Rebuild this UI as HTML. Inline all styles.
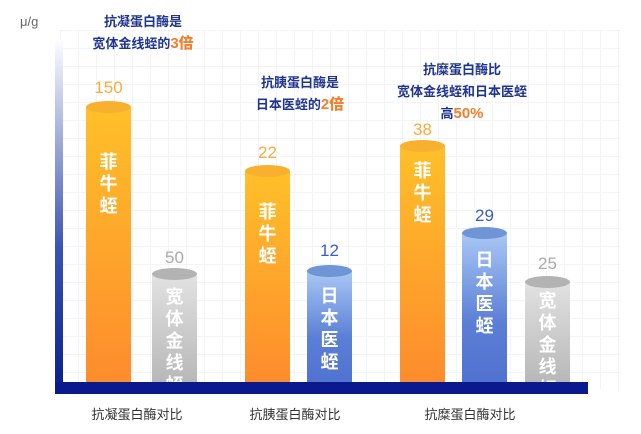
<!DOCTYPE html>
<html><head><meta charset="utf-8"><style>
body{margin:0;width:641px;height:434px;background:#fff;position:relative;overflow:hidden;font-family:"Liberation Sans","Noto Sans CJK SC",sans-serif}
.a{position:absolute}
.grid{left:60px;top:30px;width:560px;height:360px;background-image:linear-gradient(#f1f2f6 1px,transparent 1px),linear-gradient(90deg,#f1f2f6 1px,transparent 1px);background-size:18px 18px;opacity:.8}
.bar{position:absolute;width:45px;border-radius:0;color:#fff;font-size:18px;font-weight:bold;text-align:center;line-height:22px;padding-top:22px;box-sizing:border-box}
.bar span{display:block;width:1.1em;margin:0 auto;word-break:break-all}
.o{background:linear-gradient(#ffc02a,#fd8c2c)}
.o::before,.b::before,.g::before{content:"";position:absolute;left:0;top:-6px;width:45px;height:12px;border-radius:50%}
.o::before{background:#f8b12e}
.b{background:linear-gradient(#a9c8f4,#5b7fd6 60%,#5173d0)}
.b::before{background:#6f95d6}
.g{background:linear-gradient(#e2e2e2,#b8b8b8);overflow:visible}
.g::before{background:#b3b3b3}
.v{position:absolute;width:45px;text-align:center;font-size:17px}
.t{position:absolute;text-align:center;font-size:13px;color:#1f3490;font-weight:bold;line-height:22px;transform:translateX(-50%);white-space:nowrap}
.t b{color:#f57e2b;font-size:15px}
.x{position:absolute;font-size:13px;color:#333;transform:translateX(-50%);white-space:nowrap}
</style></head><body>
<div class="a grid"></div>
<div class="a" style="left:20px;top:14px;font-size:13px;color:#666">μ/g</div>
<div class="a" style="left:55px;top:38px;width:8px;height:352px;background:linear-gradient(#fff,#3a52b5 60%,#0a1f8f)"></div>

<div class="t" style="left:143px;top:11px">抗凝蛋白酶是<br>宽体金线蛭的<b>3倍</b></div>
<div class="t" style="left:300px;top:72px">抗胰蛋白酶是<br>日本医蛭的<b>2倍</b></div>
<div class="t" style="left:462px;top:59px">抗糜蛋白酶比<br>宽体金线蛭和日本医蛭<br>高<b>50%</b></div>

<div class="bar o" style="left:86px;top:107px;height:275px;padding-top:44px"><span>菲牛蛭</span></div>
<div class="v" style="left:86px;top:78px;color:#f5ad3c">150</div>
<div class="bar g" style="left:152px;top:274px;height:108px;padding-top:12px"><span>宽体金线蛭</span></div>
<div class="v" style="left:152px;top:248px;color:#aaa">50</div>
<div class="bar o" style="left:245px;top:171px;height:211px;padding-top:30px"><span>菲牛蛭</span></div>
<div class="v" style="left:245px;top:143px;color:#f5ad3c">22</div>
<div class="bar b" style="left:307px;top:271px;height:111px;padding-top:14px"><span>日本医蛭</span></div>
<div class="v" style="left:307px;top:241px;color:#3a5cc8">12</div>
<div class="bar o" style="left:400px;top:146px;height:236px;padding-top:14px"><span>菲牛蛭</span></div>
<div class="v" style="left:400px;top:120px;color:#f5ad3c">38</div>
<div class="bar b" style="left:462px;top:233px;height:149px;padding-top:16px"><span>日本医蛭</span></div>
<div class="v" style="left:462px;top:206px;color:#3a5cc8">29</div>
<div class="bar g" style="left:525px;top:282px;height:100px;padding-top:8px"><span>宽体金线蛭</span></div>
<div class="v" style="left:525px;top:254px;color:#aaa">25</div>

<div class="a" style="left:55px;top:382px;width:533px;height:12px;background:#0a1a8c"></div>
<div class="a" style="left:0;top:394px;width:641px;height:40px;background:#fff"></div>
<div class="x" style="left:137px;top:404px">抗凝蛋白酶对比</div>
<div class="x" style="left:295px;top:404px">抗胰蛋白酶对比</div>
<div class="x" style="left:470px;top:404px">抗糜蛋白酶对比</div>
</body></html>
